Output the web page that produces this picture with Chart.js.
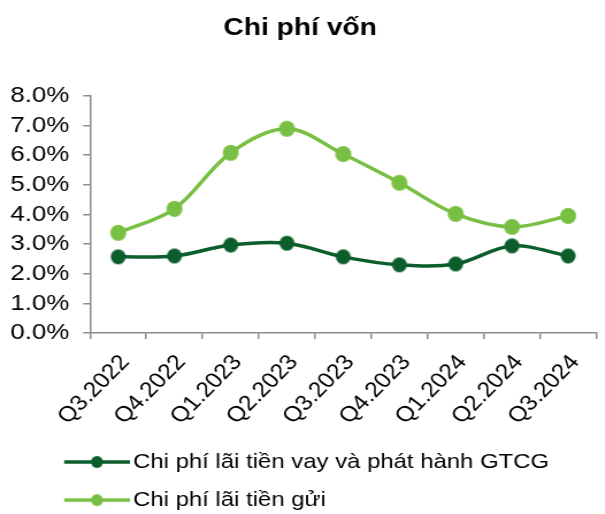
<!DOCTYPE html>
<html>
<head>
<meta charset="utf-8">
<script src="https://cdn.jsdelivr.net/npm/chart.js@4"></script>
<style>
  html, body { margin: 0; padding: 0; background: #fff; overflow: hidden; }
  /* the reference is stretched sideways, so the whole chart is drawn narrow and widened */
  #wrap { width: 526px; height: 514px; transform: scaleX(1.15); transform-origin: 0 0; }
</style>
</head>
<body>
<div id="wrap"><canvas id="cost-plot"></canvas></div>
<script>
var quarters = ["Q3.2022", "Q4.2022", "Q1.2023", "Q2.2023", "Q3.2023", "Q4.2023", "Q1.2024", "Q2.2024", "Q3.2024"];
var loanCost = [2.57, 2.60, 2.97, 3.03, 2.57, 2.30, 2.33, 2.94, 2.60];
var depositCost = [3.38, 4.19, 6.08, 6.89, 6.04, 5.07, 4.02, 3.58, 3.95];
var yTicks = [0, 1, 2, 3, 4, 5, 6, 7, 8];

var darkGreen = "#0B5E2B";
var lightGreen = "#78C043";
var stretch = 1.15;

// round dot once the page is widened
function makeDot(color, r) {
  let c = document.createElement("canvas");
  c.width = Math.ceil(2 * r / stretch) + 2;
  c.height = 2 * r + 2;
  let ctx = c.getContext("2d");
  ctx.fillStyle = color;
  ctx.beginPath();
  ctx.ellipse(c.width / 2, c.height / 2, r / stretch, r, 0, 0, Math.PI * 2);
  ctx.fill();
  return c;
}

// line with a dot for the legend
function makeLegendMark(color) {
  let c = document.createElement("canvas");
  c.width = 103;
  c.height = 14;
  let ctx = c.getContext("2d");
  ctx.strokeStyle = color;
  ctx.lineWidth = 3.5;
  ctx.beginPath();
  ctx.moveTo(46, 7);
  ctx.lineTo(103, 7);
  ctx.stroke();
  ctx.fillStyle = color;
  ctx.beginPath();
  ctx.ellipse(74.5, 7, 6 / stretch, 6, 0, 0, Math.PI * 2);
  ctx.fill();
  return c;
}

var fontFamily = "'Liberation Sans', Arial, sans-serif";

new Chart("cost-plot", {
  type: "line",
  data: {
    labels: quarters,
    datasets: [{
      label: "Chi phí lãi tiền vay và phát hành GTCG",
      data: loanCost,
      borderColor: darkGreen,
      backgroundColor: darkGreen,
      borderWidth: 3.5,
      tension: 0.35,
      pointStyle: makeDot(darkGreen, 7.5),
      legendMark: makeLegendMark(darkGreen)
    }, {
      label: "Chi phí lãi tiền gửi",
      data: depositCost,
      borderColor: lightGreen,
      backgroundColor: lightGreen,
      borderWidth: 3.5,
      tension: 0.35,
      pointStyle: makeDot(lightGreen, 8),
      legendMark: makeLegendMark(lightGreen)
    }]
  },
  options: {
    responsive: true,
    maintainAspectRatio: false,
    animation: false,
    layout: {
      padding: { left: 0, right: 4, top: 0, bottom: -6.5 }
    },
    plugins: {
      title: {
        display: true,
        text: "Chi phí vốn",
        color: "#000",
        font: { family: fontFamily, size: 24.5, weight: "bold" },
        padding: { top: 13.5, bottom: 53 }
      },
      legend: {
        display: true,
        position: "bottom",
        align: "start",
        labels: {
          color: "#000",
          font: { family: fontFamily, size: 20.8 },
          usePointStyle: true,
          pointStyleWidth: 88,
          padding: 17.3,
          generateLabels: (chart) => chart.data.datasets.map((ds, i) => ({
            text: ds.label,
            pointStyle: ds.legendMark,
            fillStyle: ds.borderColor,
            strokeStyle: ds.borderColor,
            lineWidth: 0,
            fontColor: "#000",
            datasetIndex: i,
            hidden: false
          }))
        }
      },
      tooltip: { enabled: false }
    },
    scales: {
      x: {
        offset: true,
        grid: {
          offset: true,
          drawOnChartArea: false,
          drawTicks: true,
          tickLength: 6,
          color: "#8C8C8C",
          lineWidth: 1.5
        },
        border: { display: true, color: "#8C8C8C", width: 1.5 },
        ticks: {
          autoSkip: false,
          minRotation: 49,
          maxRotation: 49,
          padding: 11,
          labelOffset: 6,
          color: "#000",
          font: { family: fontFamily, size: 21.5 }
        },
        afterFit: (axis) => { axis.height = 101.25; }
      },
      y: {
        min: 0,
        max: 8,
        grid: {
          drawOnChartArea: false,
          drawTicks: true,
          tickLength: 6,
          color: "#8C8C8C",
          lineWidth: 1.5
        },
        border: { display: true, color: "#8C8C8C", width: 1.5 },
        afterBuildTicks: (axis) => { axis.ticks = yTicks.map(v => ({ value: v })); },
        ticks: {
          autoSkip: false,
          padding: 12,
          color: "#000",
          font: { family: fontFamily, size: 22.5 },
          callback: (v) => v.toFixed(1) + "%"
        },
        afterFit: (axis) => { axis.width = 78.3; }
      }
    }
  }
});
</script>
</body>
</html>
